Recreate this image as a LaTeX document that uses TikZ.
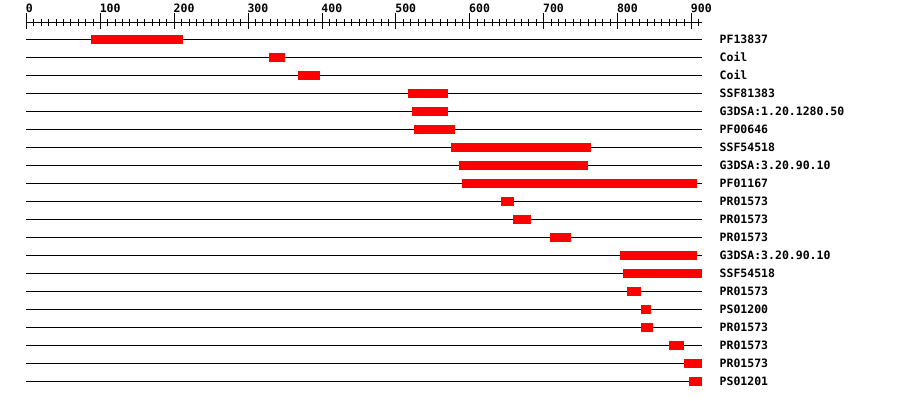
\documentclass[tikz,border=0pt]{standalone}
\usepackage{fontspec}
\newfontfamily\labfont{DejaVu Sans Mono}
\begin{document}
\begin{tikzpicture}[x=1pt,y=-1pt,
  rowline/.style={line width=1pt,black},
  featbar/.style={fill=red,draw=none},
  tick/.style={line width=1pt,black},
  lbl/.style={font=\labfont\bfseries\fontsize{11.5}{12}\selectfont,inner sep=0pt,anchor=base west}]
\fill[white] (0,0) rectangle (900,400);
\useasboundingbox (0,0) rectangle (900,400);
% axis
\coordinate (axL) at (26,22.5);
\coordinate (axR) at (702,22.5);
\draw[tick] (axL) -- (axR);
\foreach \u in {0,10,...,910} {
  \pgfmathsetmacro{\xx}{26.5+0.7389*\u}
  \draw[tick] (\xx,19.3) -- (\xx,25.7);
}
\foreach \u in {0,100,...,900} {
  \pgfmathsetmacro{\xx}{26.5+0.7389*\u}
  \draw[tick] (\xx,13.3) -- (\xx,28.7);
  \node[lbl] (ax\u) at (\xx-0.8,12) {\u};
}
% rows
\foreach \i/\a/\b/\t in {
 0/91/183/PF13837,
 1/269/285/Coil,
 2/298/320/Coil,
 3/408/448/SSF81383,
 4/412/448/G3DSA:1.20.1280.50,
 5/414/455/PF00646,
 6/451/591/SSF54518,
 7/459/588/G3DSA:3.20.90.10,
 8/462/696.7/PF01167,
 9/501/514/PR01573,
 10/513/531/PR01573,
 11/550/571/PR01573,
 12/620/697/G3DSA:3.20.90.10,
 13/623/702/SSF54518,
 14/627/641/PR01573,
 15/641/651/PS01200,
 16/641/653/PR01573,
 17/669/684/PR01573,
 18/684/702/PR01573,
 19/689/702/PS01201} {
  \pgfmathsetmacro{\yy}{39.5+18*\i}
  \coordinate (l\i) at (26,\yy);
  \coordinate (r\i) at (702,\yy);
  \draw[rowline] (l\i) -- (r\i);
  \fill[featbar] (\a,\yy-4.5) rectangle (\b,\yy+4.5);
  \node[lbl] (t\i) at (719.5,\yy+3.5) {\t};
}
\end{tikzpicture}
\end{document}
